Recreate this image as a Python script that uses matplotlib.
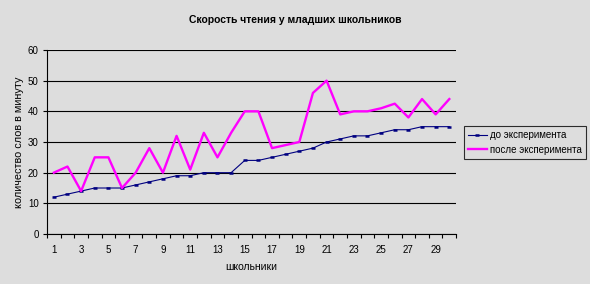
import numpy as np
import matplotlib
matplotlib.use("Agg")
import matplotlib.pyplot as plt

plt.rcParams["font.family"] = ["Liberation Sans", "DejaVu Sans"]

# данные
pupils = list(range(1, 31))
before = [12, 13, 14, 15, 15, 15, 16, 17, 18, 19,
          19, 20, 20, 20, 24, 24, 25, 26, 27, 28,
          30, 31, 32, 32, 33, 34, 34, 35, 35, 35]
after = [20, 22, 14, 25, 25, 15, 20, 28, 20, 32,
         21, 33, 25, 33, 40, 40, 28, 29, 30, 46,
         50, 39, 40, 40, 41, 42.5, 38, 44, 39, 44]
tick_labels = [str(i) for i in range(1, 31, 2)]

bg = "#dddddd"
fig = plt.figure(figsize=(5.9, 2.84), dpi=100, facecolor=bg)
ax = fig.add_axes([0.0797, 0.176, 0.6934, 0.648], facecolor=bg)

x = np.arange(len(pupils))
l1, = ax.plot(x, before, color="#000080", linewidth=0.8, marker="_",
              markersize=3, markeredgewidth=1.8, label="до эксперимента")
l2, = ax.plot(x, after, color="#ff00ff", linewidth=1.7, label="после эксперимента")

ax.set_xlim(-0.5, len(pupils) - 0.5)
ax.set_ylim(0, 60)
ax.set_yticks(range(0, 61, 10))
ax.yaxis.grid(True, color="black", linewidth=0.8)
ax.set_axisbelow(True)

# подписи категорий через одну, засечки между категориями
ax.set_xticks(x[::2])
ax.set_xticklabels(tick_labels)
ax.set_xticks(np.arange(-0.5, len(pupils)), minor=True)
ax.tick_params(axis="x", which="major", length=0, pad=8, labelsize=7)
ax.tick_params(axis="x", which="minor", length=3, width=0.8)
ax.tick_params(axis="y", length=3, width=0.8, labelsize=7, pad=3)

for s in ["top", "right"]:
    ax.spines[s].set_visible(False)
for s in ["left", "bottom"]:
    ax.spines[s].set_linewidth(0.8)

ax.set_xlabel("школьники", fontsize=7.5, labelpad=5)
ax.set_ylabel("количество слов в минуту", fontsize=7.8, labelpad=3)

fig.text(0.5, 0.93, "Скорость чтения у младших школьников",
         ha="center", va="center", fontsize=7.5, fontweight="bold")

leg = fig.legend(handles=[l1, l2], loc="upper left",
                 bbox_to_anchor=(0.786, 0.556), fontsize=7, frameon=True,
                 fancybox=False, handlelength=2.0, handletextpad=0.3,
                 borderpad=0.4, labelspacing=0.5, borderaxespad=0)
leg.get_frame().set_edgecolor("black")
leg.get_frame().set_facecolor(bg)
leg.get_frame().set_linewidth(0.8)

fig.savefig("out.png", dpi=100, facecolor=bg)
